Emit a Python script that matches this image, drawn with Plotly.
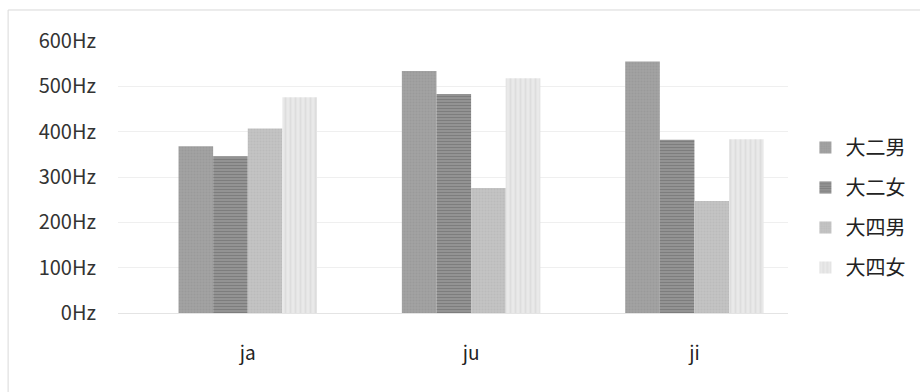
import plotly.graph_objects as go

# Syllables on the x axis
categories = ["ja", "ju", "ji"]

# Mean fundamental frequency (Hz) per group
da2_nan = [368, 534, 555]   # 大二男
da2_nv = [346, 483, 382]    # 大二女
da4_nan = [407, 276, 247]   # 大四男
da4_nv = [476, 518, 383]    # 大四女

series_names = ["大二男", "大二女", "大四男", "大四女"]
series_values = [da2_nan, da2_nv, da4_nan, da4_nv]

y_ticks = [0, 100, 200, 300, 400, 500, 600]
y_tick_labels = [f"{v}Hz" for v in y_ticks]

FONT = "Noto Sans CJK SC, Noto Sans, sans-serif"

# Grey fills with a texture per series
patterns = [
    dict(shape=".", fgcolor="#929292", bgcolor="#a2a2a2", size=3, solidity=0.35),
    dict(shape="-", fgcolor="#5e5e5e", bgcolor="#9c9c9c", size=3, solidity=0.55),
    dict(shape=".", fgcolor="#b3b3b3", bgcolor="#c3c3c3", size=3, solidity=0.35),
    dict(shape="|", fgcolor="#d2d2d2", bgcolor="#e9e9e9", size=5, solidity=0.35),
]
base_colors = ["#a0a0a0", "#7a7a7a", "#bfbfbf", "#e0e0e0"]

fig = go.Figure()
for i, (name, vals) in enumerate(zip(series_names, series_values)):
    fig.add_trace(go.Bar(
        x=categories,
        y=vals,
        name=name,
        legendgroup=name,
        marker=dict(color=base_colors[i], pattern=patterns[i], line=dict(width=0)),
    ))

fig.update_layout(
    width=920,
    height=392,
    margin=dict(l=118, r=132, t=41, b=79, autoexpand=False),
    paper_bgcolor="white",
    plot_bgcolor="white",
    barmode="group",
    bargap=0.38,
    bargroupgap=0,
    font=dict(family=FONT, size=20, color="#333333"),
    legend=dict(
        x=1.026, xanchor="left",
        y=0.388, yanchor="middle",
        font=dict(family=FONT, size=20, color="#222222"),
        tracegroupgap=11,
        bgcolor="rgba(0,0,0,0)",
    ),
    xaxis=dict(
        range=[-0.581, 2.419],
        showgrid=False,
        showline=False,
        ticks="",
        ticklabelstandoff=27,
        tickfont=dict(size=19, color="#222222"),
    ),
    yaxis=dict(
        range=[0, 600],
        tickvals=y_ticks,
        ticktext=y_tick_labels,
        showgrid=True,
        gridcolor="#efefef",
        gridwidth=1,
        zeroline=True,
        zerolinecolor="#e4e4e4",
        zerolinewidth=1,
        showline=False,
        ticks="",
        ticklabelstandoff=21,
        tickfont=dict(size=20, color="#333333"),
    ),
    shapes=[
        # chart frame (top and left edges)
        dict(type="line", xref="paper", yref="paper", x0=-0.164, x1=1.2, y0=1.114, y1=1.114,
             line=dict(color="#d9d9d9", width=1)),
        dict(type="line", xref="paper", yref="paper", x0=-0.164, x1=-0.164, y0=-0.3, y1=1.114,
             line=dict(color="#d9d9d9", width=1)),
    ],
)

fig.write_html("out.html")
